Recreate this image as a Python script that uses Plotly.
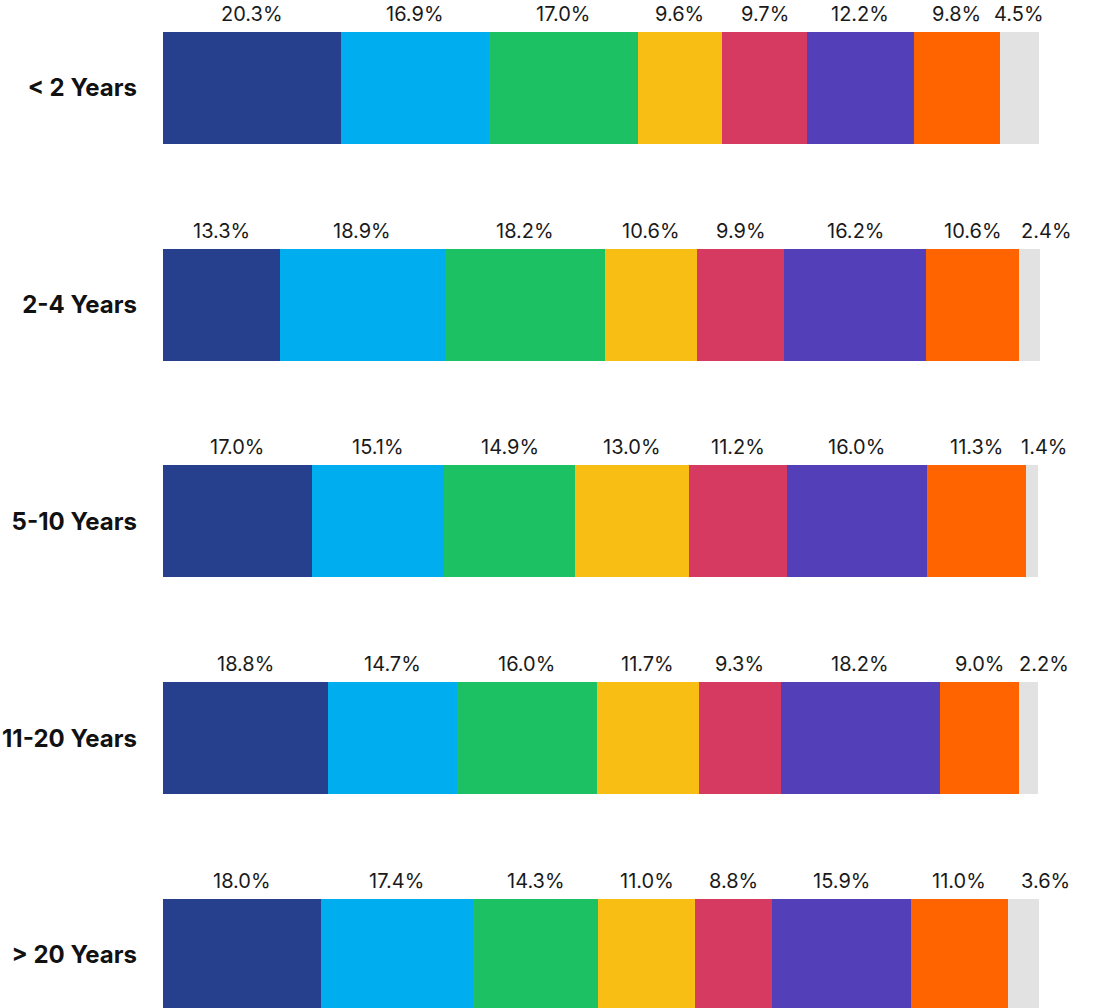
import plotly.graph_objects as go

categories = ["< 2 Years", "2-4 Years", "5-10 Years", "11-20 Years", "> 20 Years"]

seg1 = [20.3, 13.3, 17.0, 18.8, 18.0]
seg2 = [16.9, 18.9, 15.1, 14.7, 17.4]
seg3 = [17.0, 18.2, 14.9, 16.0, 14.3]
seg4 = [9.6, 10.6, 13.0, 11.7, 11.0]
seg5 = [9.7, 9.9, 11.2, 9.3, 8.8]
seg6 = [12.2, 16.2, 16.0, 18.2, 15.9]
seg7 = [9.8, 10.6, 11.3, 9.0, 11.0]
seg8 = [4.5, 2.4, 1.4, 2.2, 3.6]

series = [seg1, seg2, seg3, seg4, seg5, seg6, seg7, seg8]
colors = ["#26408e", "#00aeef", "#1bc162", "#f9be14", "#d63a61",
          "#5340b8", "#ff6400", "#e2e2e2"]

fig = go.Figure()
for vals, col in zip(series, colors):
    fig.add_trace(go.Bar(
        y=categories, x=vals, orientation="h",
        marker=dict(color=col, line=dict(width=0)),
        width=0.5166, showlegend=False, hoverinfo="skip",
    ))

# value labels above each segment
annotations = []
for r, cat in enumerate(categories):
    cum = 0.0
    for k, vals in enumerate(series):
        v = vals[r]
        center = cum + v / 2
        xshift = 0
        if k == len(series) - 1 and v < 4:
            center = cum + v
            xshift = 6
        annotations.append(dict(
            x=center, y=cat, xref="x", yref="y",
            text=f"{v:.1f}%", showarrow=False,
            yanchor="bottom", xanchor="center",
            yshift=60, xshift=xshift,
            font=dict(family="Inter", size=20, color="#1a1a1a"),
        ))
        cum += v

PX_PER_UNIT = 8.76
XMAX = 105
plot_w = XMAX * PX_PER_UNIT
left = 163

fig.update_layout(
    barmode="stack",
    width=1097, height=1008,
    margin=dict(l=left, r=1097 - left - plot_w, t=0, b=0, autoexpand=False),
    paper_bgcolor="white", plot_bgcolor="white",
    annotations=annotations,
    bargap=0,
)
fig.update_xaxes(range=[0, XMAX], visible=False, fixedrange=True)
fig.update_yaxes(
    type="category", range=[4.245, -0.405], autorange=False,
    showgrid=False, zeroline=False, showline=False,
    ticks="", ticklabelstandoff=25, automargin=False,
    tickfont=dict(family="Inter", size=24, weight="bold", color="#111111"),
)

fig.write_html("out.html")
